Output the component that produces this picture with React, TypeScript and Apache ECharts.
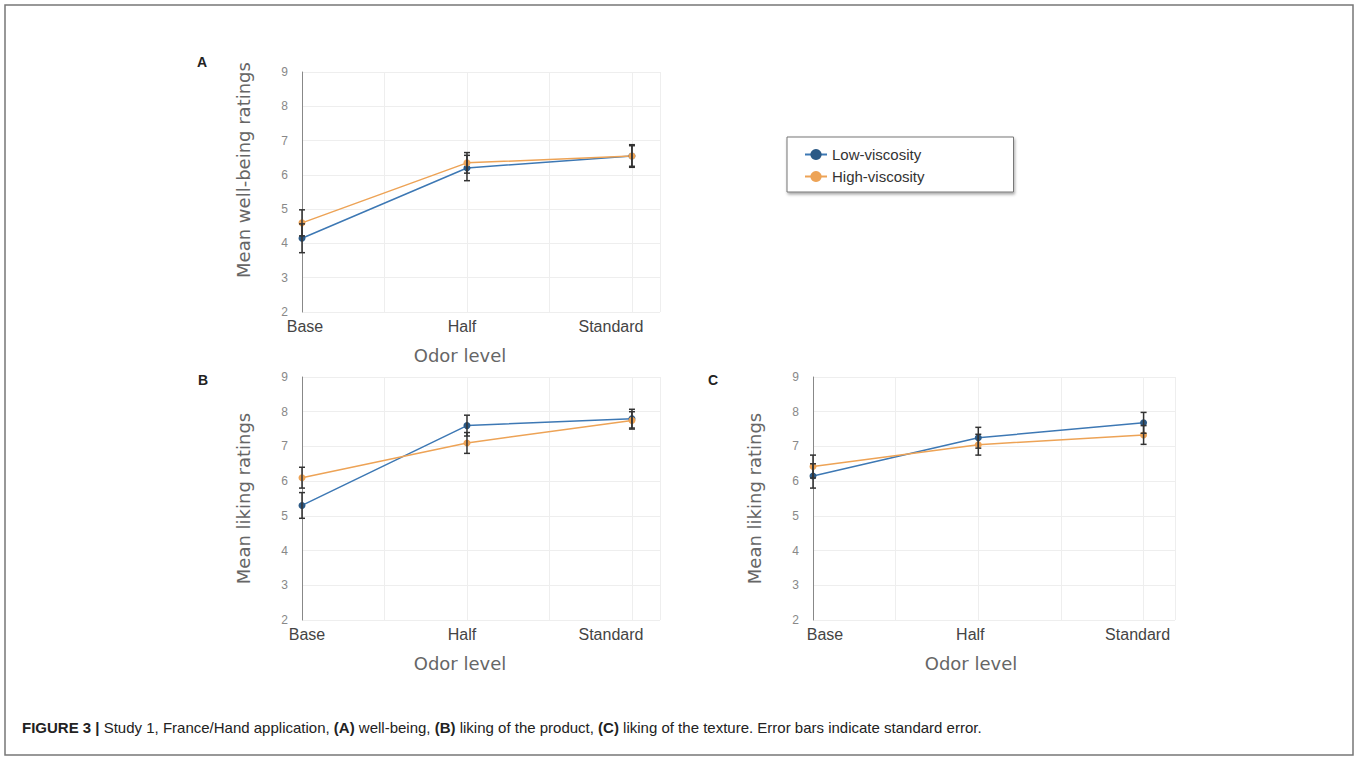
import React, { useEffect, useRef } from "react";
import * as echarts from "echarts";

const categories = ["Base", "Half", "Standard"];
const xPositions = [0, 1, 2];
const yMin = 2;
const yMax = 9;

const seriesNames = ["Low-viscosity", "High-viscosity"];

const aLowMean = [4.15, 6.2, 6.55];
const aLowErr = [0.42, 0.37, 0.33];
const aHighMean = [4.6, 6.35, 6.55];
const aHighErr = [0.38, 0.3, 0.3];

const bLowMean = [5.3, 7.6, 7.8];
const bLowErr = [0.37, 0.3, 0.27];
const bHighMean = [6.1, 7.1, 7.75];
const bHighErr = [0.3, 0.3, 0.25];

const cLowMean = [6.15, 7.25, 7.68];
const cLowErr = [0.35, 0.3, 0.3];
const cHighMean = [6.42, 7.05, 7.33];
const cHighErr = [0.33, 0.3, 0.27];

const yTitles = ["Mean well-being ratings", "Mean liking ratings", "Mean liking ratings"];
const xTitle = "Odor level";

const BLUE = "#3d78b4";
const BLUE_DARK = "#2c5a86";
const ORANGE = "#eda356";
const ERR = "#333333";

export default function App() {
  const ref = useRef<HTMLDivElement>(null);
  useEffect(() => {
    if (!ref.current) return;
    const chart = echarts.init(ref.current, undefined, { renderer: "svg" });

    const panels = [
      { low: aLowMean, lowE: aLowErr, high: aHighMean, highE: aHighErr, grid: { left: 302, top: 72, width: 358, height: 240 }, max: 2.17, yPad: 44, shifts: [6, 10, 42] },
      { low: bLowMean, lowE: bLowErr, high: bHighMean, highE: bHighErr, grid: { left: 302, top: 377, width: 358, height: 243 }, max: 2.17, yPad: 0, shifts: [10, 10, 42] },
      { low: cLowMean, lowE: cLowErr, high: cHighMean, highE: cHighErr, grid: { left: 813, top: 377, width: 362, height: 243 }, max: 2.19, yPad: 0, shifts: [24, 16, 12] },
    ];

    const labelFormatter = (v: number) => {
      const i = xPositions.indexOf(v);
      if (i < 0) return "";
      return ["{b|", "{h|", "{s|"][i] + categories[i] + "}";
    };
    const lab = { fontSize: 16, color: "#444", fontFamily: "Liberation Sans" };

    const errRender = (params: any, api: any) => {
      const x = api.value(0);
      const y = api.value(1);
      const e = api.value(2);
      const top = api.coord([x, y + e]);
      const bot = api.coord([x, y - e]);
      const st = { stroke: ERR, lineWidth: 1.5 };
      return {
        type: "group",
        children: [
          { type: "line", shape: { x1: top[0], y1: top[1], x2: bot[0], y2: bot[1] }, style: st },
          { type: "line", shape: { x1: top[0] - 3, y1: top[1], x2: top[0] + 3, y2: top[1] }, style: st },
          { type: "line", shape: { x1: bot[0] - 3, y1: bot[1], x2: bot[0] + 3, y2: bot[1] }, style: st },
        ],
      };
    };

    const grids: any[] = [];
    const xAxes: any[] = [];
    const yAxes: any[] = [];
    const series: any[] = [];

    panels.forEach((p, k) => {
      grids.push({ ...p.grid, containLabel: false });
      xAxes.push({
        type: "value",
        gridIndex: k,
        min: 0,
        max: p.max,
        interval: 0.5,
        name: xTitle,
        nameLocation: "middle",
        nameGap: 34,
        nameTextStyle: { fontSize: 18, color: "#666", fontFamily: "DejaVu Sans", padding: [0, k === 2 ? 46 : 42, 0, 0] },
        axisLine: { show: false },
        axisTick: { show: false },
        splitLine: { show: true, lineStyle: { color: "#eeeeee", width: 1 } },
        axisLabel: {
          margin: 6,
          formatter: labelFormatter,
          showMaxLabel: false,
          rich: {
            b: { ...lab, padding: [0, 0, 0, p.shifts[0]] },
            h: { ...lab, padding: [0, p.shifts[1], 0, 0] },
            s: { ...lab, padding: [0, p.shifts[2], 0, 0] },
          },
        },
      });
      yAxes.push({
        type: "value",
        gridIndex: k,
        min: yMin,
        max: yMax,
        interval: 1,
        name: yTitles[k],
        nameLocation: "middle",
        nameGap: 50,
        nameTextStyle: { fontSize: 18, color: "#666", fontFamily: "DejaVu Sans", padding: [0, 0, 0, p.yPad] },
        axisLine: { show: true, lineStyle: { color: "#888", width: 1 } },
        axisTick: { show: false },
        splitLine: { show: true, lineStyle: { color: "#eeeeee", width: 1 } },
        axisLabel: { margin: 14, fontSize: 12, color: "#888", fontFamily: "Liberation Sans" },
      });
      const mk = (arr: number[]) => arr.map((v, i) => [xPositions[i], v]);
      const mkE = (arr: number[], e: number[]) => arr.map((v, i) => [xPositions[i], v, e[i]]);
      series.push({
        type: "line", name: seriesNames[0], xAxisIndex: k, yAxisIndex: k, data: mk(p.low),
        symbol: "circle", symbolSize: 7, lineStyle: { color: BLUE, width: 1.5 },
        itemStyle: { color: BLUE_DARK }, z: 3,
      });
      series.push({
        type: "line", name: seriesNames[1], xAxisIndex: k, yAxisIndex: k, data: mk(p.high),
        symbol: "circle", symbolSize: 7, lineStyle: { color: ORANGE, width: 1.5 },
        itemStyle: { color: ORANGE }, z: 3,
      });
      series.push({
        type: "custom", xAxisIndex: k, yAxisIndex: k, data: mkE(p.low, p.lowE),
        renderItem: errRender, z: 4, silent: true,
      });
      series.push({
        type: "custom", xAxisIndex: k, yAxisIndex: k, data: mkE(p.high, p.highE),
        renderItem: errRender, z: 4, silent: true,
      });
    });

    chart.setOption({
      animation: false,
      backgroundColor: "#ffffff",
      grid: grids,
      xAxis: xAxes,
      yAxis: yAxes,
      series,
      legend: {
        data: [
          { name: seriesNames[0], itemStyle: { color: BLUE_DARK } },
          { name: seriesNames[1], itemStyle: { color: ORANGE } },
        ],
        orient: "vertical",
        left: 787,
        top: 137,
        padding: [10, 89, 8, 17],
        itemWidth: 22,
        itemHeight: 14,
        itemGap: 7,
        backgroundColor: "#ffffff",
        borderColor: "#777",
        borderWidth: 1,
        shadowColor: "rgba(0,0,0,0.35)",
        shadowBlur: 3,
        shadowOffsetX: 1,
        shadowOffsetY: 2,
        textStyle: { fontSize: 15, color: "#333", fontFamily: "Liberation Sans" },
      },
      graphic: [
        { type: "rect", shape: { x: 5, y: 5, width: 1348, height: 750 }, style: { fill: "none", stroke: "#777", lineWidth: 1.5 }, silent: true },
        { type: "text", x: 197, y: 62, style: { text: "A", fontSize: 14, fontWeight: "bold", fill: "#222", fontFamily: "Liberation Sans", textVerticalAlign: "middle" } },
        { type: "text", x: 198, y: 380, style: { text: "B", fontSize: 14, fontWeight: "bold", fill: "#222", fontFamily: "Liberation Sans", textVerticalAlign: "middle" } },
        { type: "text", x: 708, y: 380, style: { text: "C", fontSize: 14, fontWeight: "bold", fill: "#222", fontFamily: "Liberation Sans", textVerticalAlign: "middle" } },
        {
          type: "text", x: 22, y: 727,
          style: {
            text: "{b|FIGURE 3 |} Study 1, France/Hand application, {b|(A)} well-being, {b|(B)} liking of the product, {b|(C)} liking of the texture. Error bars indicate standard error.",
            fontSize: 15, fill: "#222", fontFamily: "Liberation Sans", textVerticalAlign: "middle",
            rich: { b: { fontWeight: "bold", fontSize: 15, fill: "#222", fontFamily: "Liberation Sans" } },
          },
        },
      ],
    });
    return () => chart.dispose();
  }, []);
  return <div ref={ref} style={{ position: "absolute", left: 0, top: 0, width: 1359, height: 763 }} />;
}
